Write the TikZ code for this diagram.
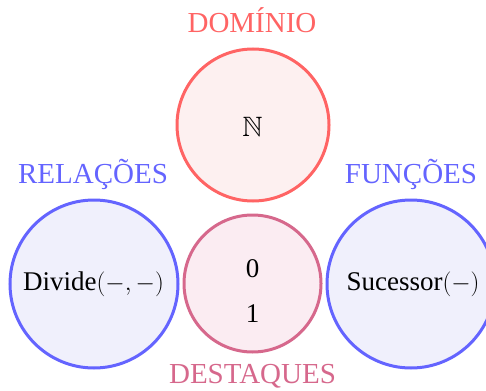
\documentclass[tikz,border=0pt]{standalone}
\usepackage{amssymb}
\usepackage{fontspec}
\setmainfont{Liberation Serif}
\definecolor{domred}{RGB}{255,100,100}
\definecolor{domfill}{RGB}{253,240,240}
\definecolor{relblue}{RGB}{100,100,255}
\definecolor{relfill}{RGB}{240,240,252}
\definecolor{despink}{RGB}{214,104,140}
\definecolor{desfill}{RGB}{251,236,242}
\newcommand{\mathpart}[1]{{\fontsize{24}{28}\selectfont$#1$}}
\tikzset{
  circ/.style={circle, line width=3pt, inner sep=0pt},
  body/.style={font=\fontsize{27}{30}\selectfont, inner sep=0pt, anchor=base},
  lbl/.style={font=\fontsize{29}{32}\selectfont, anchor=base, inner sep=0pt}
}
\begin{document}
\begin{tikzpicture}[x=1pt,y=-1pt]
\useasboundingbox (0,0) rectangle (486,390);
\node[circ, draw=domred, fill=domfill, minimum size=152pt] (dom) at (253,125) {};
\node[circ, draw=relblue, fill=relfill, minimum size=168pt] (rel) at (94,284) {};
\node[circ, draw=despink, fill=desfill, minimum size=137pt] (des) at (252.5,283.5) {};
\node[circ, draw=relblue, fill=relfill, minimum size=168pt] (fun) at (411,284) {};
\node[body, font=\fontsize{28}{30}\selectfont] (nat) at (252.5,136) {$\mathbb{N}$};
\node[body] (divide) at (93.5,290.5) {Divide\mathpart{(-,-)}};
\node[body] (zero) at (252.5,277) {0};
\node[body] (one) at (252.5,322) {1};
\node[body] (suc) at (413,290.5) {Sucessor\mathpart{(-)}};
\node[lbl, text=domred] (ldom) at (252,33) {DOMÍNIO};
\node[lbl, text=relblue] (lrel) at (93,183) {RELAÇÕES};
\node[lbl, text=relblue] (lfun) at (411,183) {FUNÇÕES};
\node[lbl, text=despink] (ldes) at (252.5,383) {DESTAQUES};
\end{tikzpicture}
\end{document}
